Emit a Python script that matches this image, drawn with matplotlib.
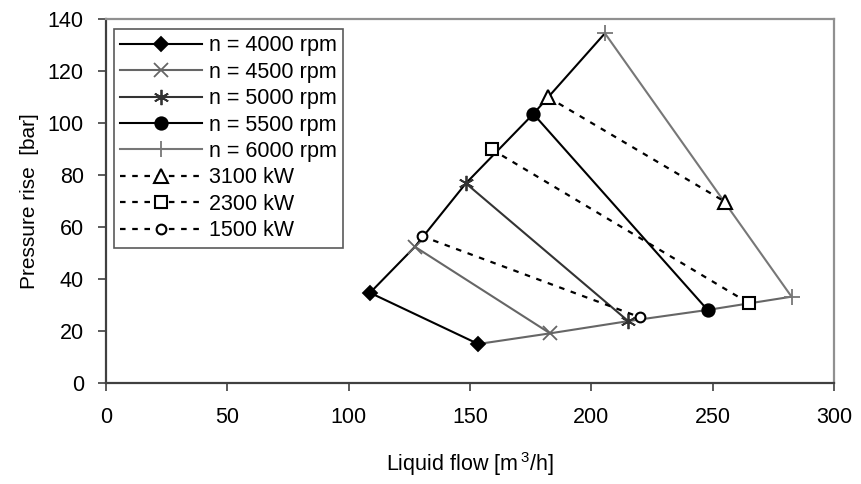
import matplotlib
matplotlib.use('Agg')
import matplotlib.pyplot as plt

plt.rcParams['font.family'] = ['Liberation Sans', 'DejaVu Sans']
plt.rcParams['mathtext.fontset'] = 'custom'
plt.rcParams['mathtext.rm'] = 'Liberation Sans'
plt.rcParams['mathtext.it'] = 'Liberation Sans'

# speed lines: (upper-left point, lower-right point)
speeds = ['n = 4000 rpm', 'n = 4500 rpm', 'n = 5000 rpm', 'n = 5500 rpm', 'n = 6000 rpm']
speed_q = [[108.8, 153.4], [127.3, 183.0], [148.3, 215.2], [176.1, 247.9], [205.6, 282.5]]
speed_p = [[34.7, 15.0], [52.4, 19.1], [76.8, 23.8], [103.5, 28.1], [134.5, 33.2]]

# constant power lines
powers = ['3100 kW', '2300 kW', '1500 kW']
power_q = [[182.2, 255.1], [158.9, 265.1], [130.1, 220.0]]
power_p = [[109.9, 69.7], [89.9, 30.6], [56.5, 25.3]]

speed_colors = ['black', '#666666', '#333333', 'black', '#777777']
speed_markers = ['D', 'x', (6, 2, 0), 'o', '+']
speed_msize = [7, 10, 11, 9, 12]
power_markers = ['^', 's', 'o']
power_msize = [10, 9, 7]

fig = plt.figure(figsize=(8.61, 4.84), dpi=100)
ax = fig.add_axes([106/861, 1-383/484, 728/861, 364/484])

# envelopes (upper: first points, lower: last points)
ax.plot([q[0] for q in speed_q], [p[0] for p in speed_p], color='black', lw=1.5, zorder=2)
ax.plot([q[1] for q in speed_q], [p[1] for p in speed_p], color='#666666', lw=1.5, zorder=2)

for i in range(len(speeds)):
    ax.plot(speed_q[i], speed_p[i], color=speed_colors[i], lw=1.5,
            marker=speed_markers[i], markersize=speed_msize[i],
            markerfacecolor=speed_colors[i], markeredgecolor=speed_colors[i],
            markeredgewidth=1.3, label=speeds[i], zorder=3)

for i in range(len(powers)):
    ax.plot(power_q[i], power_p[i], color='black', lw=1.6, ls=(0, (2.5, 3)),
            marker=power_markers[i], markersize=power_msize[i],
            markerfacecolor='white', markeredgecolor='black',
            markeredgewidth=1.5, label=powers[i], zorder=4)

ax.set_xlim(0, 300)
ax.set_ylim(0, 140)
ax.set_xticks(range(0, 301, 50))
ax.set_yticks(range(0, 141, 20))
ax.tick_params(axis='both', direction='out', length=6, width=1.2, color='#404040',
               labelsize=15.5)
ax.tick_params(axis='x', pad=11)
ax.tick_params(axis='y', pad=10)
for s in ['left', 'bottom']:
    ax.spines[s].set_color('#404040')
    ax.spines[s].set_linewidth(1.6)
for s in ['top', 'right']:
    ax.spines[s].set_color('#909090')
    ax.spines[s].set_linewidth(1.6)

ax.set_xlabel('Liquid flow [m$\\,^{3}$/h]', fontsize=15.5)
ax.set_ylabel('Pressure rise  [bar]', fontsize=15)
ax.xaxis.set_label_coords(0.5, -0.185)
ax.yaxis.set_label_coords(-0.092, 0.5)

leg = ax.legend(loc='upper left', bbox_to_anchor=(0.011, 0.9725), borderaxespad=0,
                fontsize=15.5, frameon=True, fancybox=False, edgecolor='#303030',
                handlelength=3.8, handletextpad=0.3, labelspacing=0.25,
                borderpad=0.3)
leg.get_frame().set_linewidth(1.2)

fig.savefig('out.png', dpi=100)
